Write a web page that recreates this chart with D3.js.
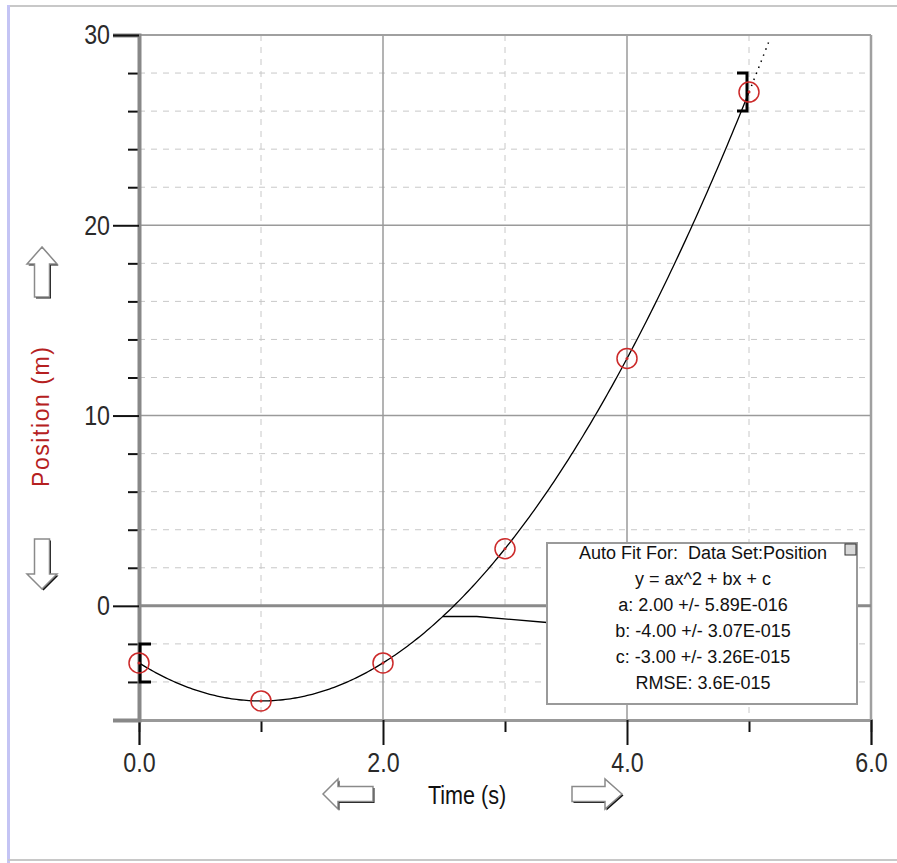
<!DOCTYPE html>
<html>
<head>
<meta charset="utf-8">
<script src="https://cdn.jsdelivr.net/npm/d3@7"></script>
<style>
  body { margin: 0; background: #fff; }
  svg { display: block; }
  .tick-label { font-family: 'Liberation Sans', Arial, sans-serif; }
</style>
</head>
<body>
<svg id="chart" width="897" height="863"></svg>
<script>
// data
const timeValues = [0, 1, 2, 3, 4, 5];
const positionValues = [-3, -5, -3, 3, 13, 27];

// auto fit y = ax^2 + bx + c
const fitA = 2.00, fitB = -4.00, fitC = -3.00;
const legendLines = [
    "Auto Fit For:  Data Set:Position",
    "y = ax^2 + bx + c",
    "a: 2.00 +/- 5.89E-016",
    "b: -4.00 +/- 3.07E-015",
    "c: -3.00 +/- 3.26E-015",
    "RMSE: 3.6E-015"
];

// selection brackets (fit range)
const bracketX = [0, 5];
const bracketHalf = 1;
const leaderX = 2.49;

const xMajorTicks = [0, 2, 4, 6];
const xMinorTicks = [1, 3, 5];
const yMajorTicks = [0, 10, 20, 30];
const yMinorTicks = [-6, -4, -2, 2, 4, 6, 8, 12, 14, 16, 18, 22, 24, 26, 28];

const svg = d3.select("#chart");
const x = d3.scaleLinear().domain([0, 6]).range([139, 871]);
const y = d3.scaleLinear().domain([-6, 30]).range([720, 35]);
const fit = t => fitA * t * t + fitB * t + fitC;
const squeeze = 0.83; // the original font is tall and narrow

// page frame
svg.append("line").attr("x1", 8).attr("x2", 897).attr("y1", 6).attr("y2", 6)
    .attr("stroke", "#c8c8c8").attr("stroke-width", 2);
svg.append("line").attr("x1", 8.5).attr("x2", 8.5).attr("y1", 5).attr("y2", 863)
    .attr("stroke", "#c4c4f4").attr("stroke-width", 3);
svg.append("line").attr("x1", 8).attr("x2", 897).attr("y1", 860).attr("y2", 860)
    .attr("stroke", "#c8c8c8").attr("stroke-width", 2);

// grid
const grid = svg.append("g");
grid.selectAll(".vminor").data(xMinorTicks).join("line")
    .attr("x1", d => x(d)).attr("x2", d => x(d)).attr("y1", y(30)).attr("y2", y(-6))
    .attr("stroke", "#c8c8c8").attr("stroke-dasharray", "6,6");
grid.selectAll(".hminor").data(yMinorTicks.filter(d => d > -6)).join("line")
    .attr("x1", x(0)).attr("x2", x(6)).attr("y1", d => y(d)).attr("y2", d => y(d))
    .attr("stroke", "#c8c8c8").attr("stroke-dasharray", "6,6");
grid.selectAll(".vmajor").data(xMajorTicks.filter(d => d > 0 && d < 6)).join("line")
    .attr("x1", d => x(d)).attr("x2", d => x(d)).attr("y1", y(30)).attr("y2", y(-6))
    .attr("stroke", "#9a9a9a").attr("stroke-width", 1.5);
grid.selectAll(".hmajor").data(yMajorTicks.filter(d => d > 0 && d < 30)).join("line")
    .attr("x1", x(0)).attr("x2", x(6)).attr("y1", d => y(d)).attr("y2", d => y(d))
    .attr("stroke", "#9a9a9a").attr("stroke-width", 1.5);

// frame of plot
svg.append("line").attr("x1", x(0)).attr("x2", x(6)).attr("y1", y(30)).attr("y2", y(30))
    .attr("stroke", "#a0a0a0").attr("stroke-width", 2);
svg.append("line").attr("x1", x(6)).attr("x2", x(6)).attr("y1", y(30)).attr("y2", y(-6))
    .attr("stroke", "#a0a0a0").attr("stroke-width", 2.5);
svg.append("line").attr("x1", x(0)).attr("x2", x(6)).attr("y1", y(0)).attr("y2", y(0))
    .attr("stroke", "#8a8a8a").attr("stroke-width", 3);

// axes
function styleAxis(g, stroke) {
    g.select(".domain").attr("stroke", stroke).attr("stroke-width", 3);
    g.selectAll(".tick line").attr("stroke", "#111").attr("stroke-width", 2);
    g.selectAll(".tick text").attr("class", "tick-label").attr("fill", "#2a2a2a")
        .attr("font-size", 28)
        .attr("x", function() { return +d3.select(this).attr("x") / squeeze; })
        .attr("transform", `scale(${squeeze},1)`);
}

svg.append("g").attr("transform", `translate(0,${y(-6)})`)
    .call(d3.axisBottom(x).tickValues(xMinorTicks).tickSize(12).tickFormat(""))
    .call(g => styleAxis(g, "#999"));
svg.append("g").attr("transform", `translate(0,${y(-6)})`)
    .call(d3.axisBottom(x).tickValues(xMajorTicks).tickSize(25).tickPadding(7).tickFormat(d3.format(".1f")))
    .call(g => styleAxis(g, "#999"))
    .call(g => g.select(".domain").attr("stroke-width", 2));

svg.append("g").attr("transform", `translate(${x(0)},0)`)
    .call(d3.axisLeft(y).tickValues(yMinorTicks).tickSize(11).tickFormat(""))
    .call(g => styleAxis(g, "#888"));
svg.append("g").attr("transform", `translate(${x(0)},0)`)
    .call(d3.axisLeft(y).tickValues(yMajorTicks).tickSize(26).tickPadding(3).tickFormat(d3.format("d")))
    .call(g => styleAxis(g, "#888"))
    .call(g => g.select(".domain").attr("stroke-width", 4));

// fit curve
const curveLine = d3.line().x(d => x(d)).y(d => y(fit(d)));
svg.append("path").datum(d3.range(0, 5.0001, 0.02))
    .attr("d", curveLine).attr("fill", "none").attr("stroke", "#000").attr("stroke-width", 1.3);
// dotted extension past the fit range
const xEnd = d3.range(5, 5.3, 0.005).find(t => fit(t) >= 29.6);
svg.append("path").datum(d3.range(5, xEnd, 0.005))
    .attr("d", curveLine).attr("fill", "none").attr("stroke", "#000")
    .attr("stroke-width", 1.5).attr("stroke-dasharray", "1.5,5");

// brackets
bracketX.forEach((bx, i) => {
    const by = positionValues[timeValues.indexOf(bx)];
    const px = x(bx) + (i === 0 ? 1 : -2);
    const cap = i === 0 ? 11 : -10;
    svg.append("path")
        .attr("d", `M${px + cap},${y(by + bracketHalf)}H${px}V${y(by - bracketHalf)}H${px + cap}`)
        .attr("fill", "none").attr("stroke", "#000").attr("stroke-width", 3);
});

// data points
const pts = svg.append("g");
pts.selectAll("circle.m").data(timeValues).join("circle")
    .attr("cx", d => x(d)).attr("cy", (d, i) => y(positionValues[i])).attr("r", 10)
    .attr("fill", "none").attr("stroke", "#cc2a2a").attr("stroke-width", 1.5);
pts.selectAll("circle.c").data(timeValues).join("circle")
    .attr("cx", d => x(d)).attr("cy", (d, i) => y(positionValues[i])).attr("r", 1.5)
    .attr("fill", "#cc2a2a");

// legend box and leader line
const box = { x: 547, y: 543, w: 310, h: 161 };
svg.append("path")
    .attr("d", `M${x(leaderX)},${y(fit(leaderX))}L${x(leaderX) + 34},${y(fit(leaderX))}L${box.x},${y(fit(leaderX)) + 6}`)
    .attr("fill", "none").attr("stroke", "#000").attr("stroke-width", 1.3);
svg.append("rect").attr("x", box.x).attr("y", box.y).attr("width", box.w).attr("height", box.h)
    .attr("fill", "#fff").attr("stroke", "#9a9a9a").attr("stroke-width", 2);
svg.append("rect").attr("x", box.x + box.w - 12).attr("y", box.y + 1).attr("width", 11).attr("height", 11)
    .attr("fill", "#d8d8d8").attr("stroke", "#333").attr("stroke-width", 1);
svg.append("g").selectAll("text").data(legendLines).join("text")
    .attr("x", 703).attr("y", (d, i) => 559 + i * 26)
    .attr("text-anchor", "middle")
    .attr("font-family", "'Liberation Sans', Arial, sans-serif")
    .attr("font-size", 18).attr("fill", "#111")
    .style("white-space", "pre")
    .text(d => d);

// axis titles
svg.append("text").attr("class", "tick-label")
    .attr("transform", `translate(467,804) scale(${squeeze},1)`).attr("text-anchor", "middle")
    .attr("font-size", 26).attr("fill", "#111").text("Time (s)");
svg.append("text")
    .attr("transform", "translate(49,417) rotate(-90)").attr("text-anchor", "middle")
    .attr("font-family", "'Liberation Sans', Arial, sans-serif")
    .attr("font-size", 23).attr("fill", "#b52020").attr("textLength", 140)
    .text("Position (m)");

// block arrows
function blockArrow(tx, ty, angle, len, headLen) {
    const hh = 15, sh = 7.5;
    const pts = [[0, 0], [-headLen, -hh], [-headLen, -sh], [-len, -sh], [-len, sh], [-headLen, sh], [-headLen, hh]];
    const d = "M" + pts.map(p => p.join(",")).join("L") + "Z";
    svg.append("path").attr("d", d)
        .attr("transform", `translate(${tx + 1.5},${ty + 1.5}) rotate(${angle})`)
        .attr("fill", "#111");
    svg.append("path").attr("d", d)
        .attr("transform", `translate(${tx},${ty}) rotate(${angle})`)
        .attr("fill", "#fff").attr("stroke", "#8a8a8a").attr("stroke-width", 1.5)
        .attr("stroke-linejoin", "miter");
}
blockArrow(42, 247, -90, 50, 17);
blockArrow(42, 589, 90, 50, 15);
blockArrow(323, 794, 180, 50, 15);
blockArrow(622, 794, 0, 50, 17);
</script>
</body>
</html>
